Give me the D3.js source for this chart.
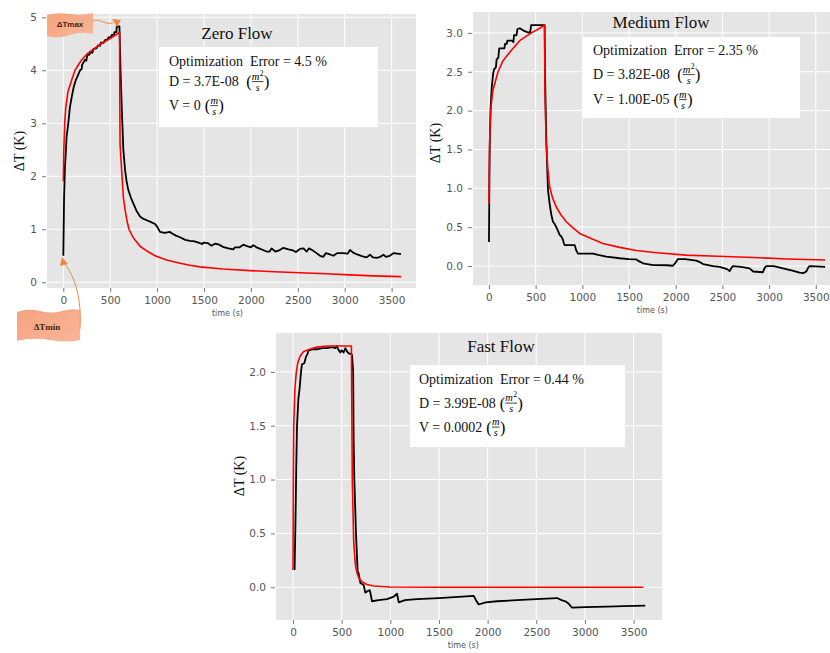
<!DOCTYPE html>
<html>
<head>
<meta charset="utf-8">
<script src="https://cdn.jsdelivr.net/npm/d3@7"></script>
<style>
  body { margin: 0; background: #fff; }
  svg { display: block; }
  text { white-space: pre; }
</style>
</head>
<body>
<svg id="chart" width="830" height="653"></svg>
<script>
// ---- data: [time (s), ΔT (K)] ----
const timeTicks = [0, 500, 1000, 1500, 2000, 2500, 3000, 3500];

const zeroTicks = [0, 1, 2, 3, 4, 5];
const zeroMeasured = [
  [0,0.5],[8,1.6],[18,2.2],[25,2.4],[35,2.75],[53,3.0],[70,3.3],[90,3.5],[110,3.68],[130,3.8],
  [150,3.88],[178,4.0],[195,4.02],[200,4.1],[231,4.2],[245,4.18],[255,4.28],[280,4.3],[290,4.35],
  [310,4.33],[320,4.4],[356,4.42],[370,4.47],[390,4.46],[400,4.52],[430,4.52],[444,4.57],[470,4.58],
  [480,4.62],[505,4.62],[516,4.67],[540,4.67],[545,4.72],[565,4.72],[570,4.83],[598,4.83],[610,4.0],
  [625,3.2],[640,2.5],[658,2.12],[675,1.9],[693,1.74],[720,1.6],[746,1.49],[780,1.35],[818,1.24],
  [850,1.2],[889,1.17],[930,1.14],[978,1.1],[1000,1.05],[1031,0.95],[1080,0.93],[1137,0.95],
  [1160,0.92],[1200,0.88],[1244,0.85],[1300,0.8],[1350,0.78],[1400,0.77],[1457,0.74],[1480,0.72],
  [1493,0.75],[1540,0.74],[1580,0.69],[1620,0.73],[1660,0.71],[1700,0.67],[1760,0.64],[1812,0.62],
  [1830,0.66],[1880,0.66],[1919,0.71],[1960,0.68],[2000,0.66],[2026,0.7],[2060,0.66],[2100,0.63],
  [2140,0.6],[2168,0.58],[2200,0.58],[2220,0.64],[2260,0.58],[2300,0.6],[2346,0.65],[2400,0.62],
  [2450,0.6],[2480,0.57],[2524,0.63],[2560,0.64],[2595,0.58],[2620,0.64],[2660,0.6],[2700,0.55],
  [2737,0.5],[2770,0.48],[2800,0.55],[2850,0.52],[2879,0.5],[2920,0.55],[2980,0.55],[3030,0.54],
  [3056,0.61],[3090,0.56],[3140,0.52],[3190,0.49],[3234,0.47],[3270,0.52],[3300,0.47],[3340,0.46],
  [3380,0.48],[3412,0.52],[3440,0.48],[3480,0.5],[3520,0.55],[3560,0.54],[3600,0.53]
];
const zeroModel = [
  [0,1.9],[5,2.5],[15,3.0],[26,3.3],[50,3.6],[90,3.82],[125,4.0],[160,4.1],[196,4.2],[260,4.32],
  [338,4.42],[420,4.52],[498,4.6],[570,4.68],[600,4.72],[602,3.5],[605,2.6],[640,1.6],[660,1.35],
  [680,1.15],[700,1.0],[746,0.84],[818,0.68],[900,0.58],[978,0.5],[1100,0.42],[1244,0.36],
  [1350,0.32],[1457,0.29],[1700,0.25],[1990,0.22],[2250,0.2],[2524,0.18],[2800,0.16],[3056,0.14],
  [3300,0.12],[3600,0.106]
];

const mediumTicks = [0, 0.5, 1.0, 1.5, 2.0, 2.5, 3.0];
const mediumMeasured = [
  [0,0.31],[5,1.2],[10,1.7],[18,2.05],[30,2.3],[45,2.48],[55,2.53],[75,2.56],[82,2.66],[100,2.68],
  [110,2.8],[150,2.8],[165,2.8],[172,2.86],[190,2.86],[198,2.9],[250,2.9],[262,2.88],[268,2.97],
  [295,2.97],[305,3.05],[330,3.06],[370,3.03],[410,3.01],[440,3.0],[452,3.1],[596,3.1],[600,2.5],
  [614,1.62],[632,0.98],[650,0.8],[668,0.66],[685,0.57],[700,0.55],[721,0.5],[740,0.45],[757,0.4],
  [775,0.38],[792,0.34],[800,0.3],[810,0.27],[918,0.27],[935,0.2],[953,0.16],[1114,0.16],
  [1180,0.14],[1257,0.12],[1400,0.1],[1500,0.09],[1578,0.085],[1610,0.06],[1650,0.035],
  [1756,0.013],[1900,0.01],[1970,0.004],[1990,0.03],[2024,0.09],[2100,0.09],[2220,0.07],
  [2260,0.05],[2292,0.026],[2400,0.0],[2470,-0.01],[2550,-0.04],[2577,-0.065],[2600,-0.02],
  [2612,0.0],[2700,-0.01],[2791,-0.03],[2830,-0.07],[2934,-0.08],[2950,-0.03],[2970,0.0],
  [3050,0.0],[3148,-0.03],[3250,-0.06],[3327,-0.085],[3370,-0.09],[3398,-0.07],[3420,-0.02],
  [3434,0.0],[3500,-0.005],[3600,-0.01]
];
const mediumModel = [
  [0,0.8],[5,1.5],[18,2.0],[40,2.25],[97,2.5],[150,2.64],[222,2.75],[329,2.9],[454,3.0],[530,3.05],
  [596,3.1],[600,2.2],[612,1.6],[630,1.25],[650,1.02],[680,0.88],[721,0.76],[770,0.66],[828,0.57],
  [900,0.49],[971,0.42],[1100,0.35],[1221,0.29],[1400,0.24],[1578,0.2],[1800,0.17],[2113,0.14],
  [2450,0.125],[2827,0.11],[3200,0.09],[3600,0.077]
];

const fastTicks = [0, 0.5, 1.0, 1.5, 2.0];
const fastMeasured = [
  [16,0.16],[25,0.6],[33,1.1],[41,1.5],[55,1.75],[68,1.85],[82,2.0],[92,2.07],[116,2.08],[133,2.14],
  [150,2.17],[161,2.2],[200,2.21],[247,2.21],[300,2.22],[349,2.22],[400,2.23],[435,2.22],[450,2.24],
  [470,2.2],[486,2.18],[500,2.2],[520,2.18],[538,2.22],[555,2.19],[572,2.17],[590,2.17],[606,2.16],
  [618,2.0],[623,1.37],[630,1.0],[647,0.5],[664,0.15],[674,0.13],[692,0.04],[726,0.02],[743,-0.05],
  [760,-0.04],[777,-0.03],[790,-0.03],[812,-0.13],[880,-0.12],[966,-0.11],[1030,-0.09],[1069,-0.06],
  [1086,-0.14],[1150,-0.12],[1274,-0.11],[1500,-0.1],[1700,-0.09],[1857,-0.08],[1880,-0.12],
  [1908,-0.16],[1980,-0.14],[2097,-0.13],[2300,-0.12],[2500,-0.11],[2713,-0.1],[2760,-0.12],
  [2799,-0.13],[2830,-0.15],[2868,-0.19],[3000,-0.185],[3227,-0.18],[3400,-0.175],[3620,-0.17]
];
const fastModel = [
  [0,0.16],[3,1.0],[7,1.5],[20,1.85],[34,2.0],[50,2.09],[75,2.15],[110,2.19],[144,2.2],[200,2.22],
  [247,2.23],[350,2.24],[600,2.24],[604,1.7],[609,1.0],[623,0.44],[640,0.21],[658,0.13],[680,0.08],
  [709,0.05],[760,0.025],[828,0.012],[1000,0.002],[1500,0],[2500,0],[3600,0]
];

const titles = ["Zero Flow", "Medium Flow", "Fast Flow"];
const zeroNotes = ["Optimization  Error = 4.5 %", "D = 3.7E-08  ", "V = 0 "];
const mediumNotes = ["Optimization  Error = 2.35 %", "D = 3.82E-08  ", "V = 1.00E-05 "];
const fastNotes = ["Optimization  Error = 0.44 %", "D = 3.99E-08 ", "V = 0.0002 "];

// ---- layout ----
const SERIF = "'Liberation Serif','Times New Roman',serif";
const SANS = "'DejaVu Sans',sans-serif";
const svg = d3.select("#chart");
const defs = svg.append("defs");

const panels = [
  { title: titles[0], measured: zeroMeasured, model: zeroModel, yTicks: zeroTicks, fmt: d3.format("d"),
    notes: zeroNotes, l: 47, r: 416, t: 14, b: 288, xd: [-174, 3760], yd: [-0.108, 5.062],
    titleX: 237, titleY: 39, box: [159, 47, 219, 80], textX: 169, lines: [65.5, 86, 110], ylab: [19, 151] },
  { title: titles[1], measured: mediumMeasured, model: mediumModel, yTicks: mediumTicks, fmt: d3.format(".1f"),
    notes: mediumNotes, l: 473, r: 841, t: 12, b: 285, xd: [-171, 3770], yd: [-0.244, 3.269],
    titleX: 661, titleY: 28, box: [583, 37, 217, 81], textX: 593, lines: [55, 79, 104], ylab: [435, 143] },
  { title: titles[2], measured: fastMeasured, model: fastModel, yTicks: fastTicks, fmt: d3.format(".1f"),
    notes: fastNotes, l: 276, r: 662, t: 333, b: 620, xd: [-175, 3792], yd: [-0.304, 2.361],
    titleX: 501, titleY: 352, box: [410, 365, 215, 82], textX: 419, lines: [383.5, 407.5, 431.5], ylab: [239, 476] }
];

// (m/s) or (m²/s) written as a small stacked fraction
function drawFraction(g, x, base, squared) {
  const open = g.append("text").attr("x", x + 0.5).attr("y", base + 1)
    .attr("font-family", SERIF).attr("font-size", 16).text("(");
  const pw = open.node().getComputedTextLength();
  const nx = x + 0.5 + pw + 0.3;
  const num = g.append("text").attr("x", nx).attr("y", base - 6.5)
    .attr("font-family", SERIF).attr("font-style", "italic").attr("font-size", 10.5).text("m");
  let nw = num.node().getComputedTextLength();
  if (squared) {
    const sup = g.append("text").attr("x", nx + nw + 0.3).attr("y", base - 10.5)
      .attr("font-family", SERIF).attr("font-size", 7.5).text("2");
    nw += sup.node().getComputedTextLength() + 0.3;
  }
  g.append("line").attr("x1", nx).attr("x2", nx + nw).attr("y1", base - 4.4).attr("y2", base - 4.4)
    .attr("stroke", "#111").attr("stroke-width", 0.8);
  g.append("text").attr("x", nx + nw / 2).attr("y", base + 4.5).attr("text-anchor", "middle")
    .attr("font-family", SERIF).attr("font-style", "italic").attr("font-size", 10).text("s");
  g.append("text").attr("x", nx + nw + 0.6).attr("y", base + 1)
    .attr("font-family", SERIF).attr("font-size", 16).text(")");
}

panels.forEach((p, i) => {
  const x = d3.scaleLinear().domain(p.xd).range([p.l, p.r]);
  const y = d3.scaleLinear().domain(p.yd).range([p.b, p.t]);
  const g = svg.append("g");

  g.append("rect").attr("x", p.l).attr("y", p.t).attr("width", p.r - p.l).attr("height", p.b - p.t)
    .attr("fill", "#E5E5E5");

  // grid
  g.append("g").selectAll("line").data(timeTicks).join("line")
    .attr("x1", d => x(d)).attr("x2", d => x(d)).attr("y1", p.t).attr("y2", p.b)
    .attr("stroke", "#fff").attr("stroke-width", 1);
  g.append("g").selectAll("line").data(p.yTicks).join("line")
    .attr("x1", p.l).attr("x2", p.r).attr("y1", d => y(d)).attr("y2", d => y(d))
    .attr("stroke", "#fff").attr("stroke-width", 1);

  // axes
  const xa = g.append("g").attr("transform", `translate(0,${p.b})`)
    .call(d3.axisBottom(x).tickValues(timeTicks).tickFormat(d3.format("d")).tickSize(4).tickPadding(5));
  const ya = g.append("g").attr("transform", `translate(${p.l - 1},0)`)
    .call(d3.axisLeft(y).tickValues(p.yTicks).tickFormat(p.fmt).tickSize(4).tickPadding(5));
  [xa, ya].forEach(a => {
    a.select(".domain").remove();
    a.selectAll(".tick line").attr("stroke", "#555").attr("stroke-width", 0.8);
    a.selectAll(".tick text").attr("fill", "#555").attr("font-family", SANS).attr("font-size", 10.5);
  });

  g.append("text").attr("x", x(1750)).attr("y", p.b + 28).attr("text-anchor", "middle")
    .attr("font-family", SANS).attr("font-size", 8).attr("fill", "#555").text("time (s)");
  g.append("text").attr("transform", `translate(${p.ylab[0]},${p.ylab[1]}) rotate(-90)`)
    .attr("dy", "0.35em").attr("text-anchor", "middle")
    .attr("font-family", SERIF).attr("font-size", 14).attr("fill", "#111").text("ΔT (K)");

  // measured (black) and fitted model (red) curves
  const cid = "clip" + i;
  defs.append("clipPath").attr("id", cid).append("rect")
    .attr("x", p.l).attr("y", p.t).attr("width", p.r - p.l).attr("height", p.b - p.t);
  const line = d3.line().x(d => x(d[0])).y(d => y(d[1]));
  const curves = g.append("g").attr("clip-path", `url(#${cid})`);
  curves.append("path").datum(p.measured).attr("d", line)
    .attr("fill", "none").attr("stroke", "#000").attr("stroke-width", 1.8).attr("stroke-linejoin", "round");
  curves.append("path").datum(p.model).attr("d", line)
    .attr("fill", "none").attr("stroke", "#F00").attr("stroke-width", 1.6).attr("stroke-linejoin", "round");

  // title + fitted parameters
  g.append("text").attr("x", p.titleX).attr("y", p.titleY).attr("text-anchor", "middle")
    .attr("font-family", SERIF).attr("font-size", 17).attr("fill", "#111").text(p.title);
  g.append("rect").attr("x", p.box[0]).attr("y", p.box[1]).attr("width", p.box[2]).attr("height", p.box[3])
    .attr("fill", "#fff");
  p.notes.forEach((s, k) => {
    const t = g.append("text").attr("x", p.textX).attr("y", p.lines[k])
      .attr("font-family", SERIF).attr("font-size", 14).attr("fill", "#111").text(s);
    if (k > 0) drawFraction(g, p.textX + t.node().getComputedTextLength(), p.lines[k], k === 1);
  });
});

// ---- ΔTmax / ΔTmin callouts ----
const grad = defs.append("linearGradient").attr("id", "flag").attr("x1", 0).attr("y1", 0).attr("x2", 1).attr("y2", 1);
grad.append("stop").attr("offset", 0).attr("stop-color", "#F6A27E");
grad.append("stop").attr("offset", 1).attr("stop-color", "#F8B698");
const ORANGE = "#EE8A45";
const ann = svg.append("g");

ann.append("path").attr("d", "M47,15 Q58,12 70,14 T93,13 L93,34 Q82,31 70,35 T47,36 Z").attr("fill", "url(#flag)");
ann.append("text").attr("x", 70).attr("y", 27).attr("text-anchor", "middle")
  .attr("font-family", "'Liberation Sans',Arial,sans-serif").attr("font-weight", "bold").attr("font-size", 8)
  .attr("fill", "#3a2618").text("ΔTmax");
ann.append("path").attr("d", "M93,21 C101,18 104,25 113,23").attr("fill", "none")
  .attr("stroke", ORANGE).attr("stroke-width", 1);
ann.append("path").attr("d", "M112,19 L121,20 L117,27 Z").attr("fill", ORANGE);

ann.append("path").attr("d", "M17,312 Q28,308 40,311 T62,311 T80,310 L80,340 Q68,343 50,340 T17,341 Z")
  .attr("fill", "url(#flag)");
ann.append("text").attr("x", 47).attr("y", 330).attr("text-anchor", "middle")
  .attr("font-family", SERIF).attr("font-weight", "bold").attr("font-size", 9)
  .attr("fill", "#3a2618").text("ΔTmin");
ann.append("path").attr("d", "M80,329 C82,300 75,277 65,264").attr("fill", "none")
  .attr("stroke", ORANGE).attr("stroke-width", 1);
ann.append("path").attr("d", "M62,257 L60,266 L68,264 Z").attr("fill", ORANGE);
</script>
</body>
</html>
